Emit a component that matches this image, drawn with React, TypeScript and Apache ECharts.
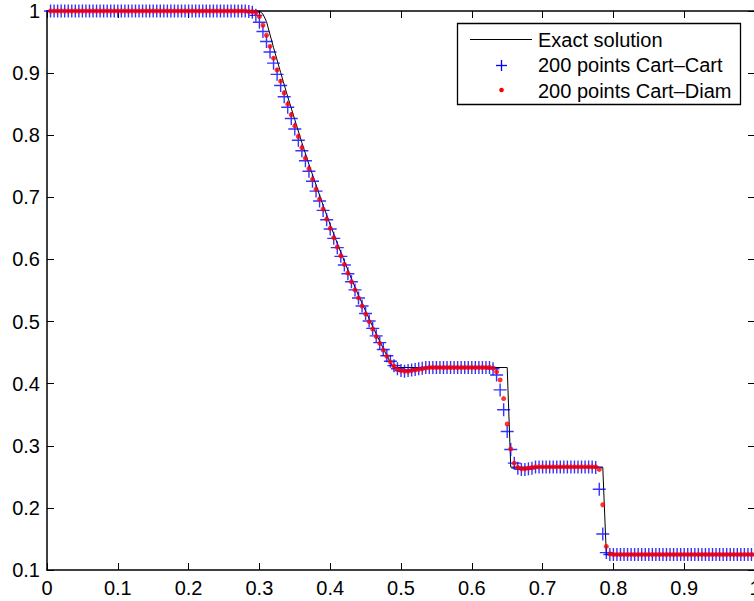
import React, { useEffect, useRef } from "react";
import * as echarts from "echarts";

// grid points (200 points)
const xCells = [
  0.005,0.01,0.015,0.02,0.025,0.03,0.035,0.04,0.045,0.05,
  0.055,0.06,0.065,0.07,0.075,0.08,0.085,0.09,0.095,0.1,
  0.105,0.11,0.115,0.12,0.125,0.13,0.135,0.14,0.145,0.15,
  0.155,0.16,0.165,0.17,0.175,0.18,0.185,0.19,0.195,0.2,
  0.205,0.21,0.215,0.22,0.225,0.23,0.235,0.24,0.245,0.25,
  0.255,0.26,0.265,0.27,0.275,0.28,0.285,0.29,0.295,0.3,
  0.305,0.31,0.315,0.32,0.325,0.33,0.335,0.34,0.345,0.35,
  0.355,0.36,0.365,0.37,0.375,0.38,0.385,0.39,0.395,0.4,
  0.405,0.41,0.415,0.42,0.425,0.43,0.435,0.44,0.445,0.45,
  0.455,0.46,0.465,0.47,0.475,0.48,0.485,0.49,0.495,0.5,
  0.505,0.51,0.515,0.52,0.525,0.53,0.535,0.54,0.545,0.55,
  0.555,0.56,0.565,0.57,0.575,0.58,0.585,0.59,0.595,0.6,
  0.605,0.61,0.615,0.62,0.625,0.63,0.635,0.64,0.645,0.65,
  0.655,0.66,0.665,0.67,0.675,0.68,0.685,0.69,0.695,0.7,
  0.705,0.71,0.715,0.72,0.725,0.73,0.735,0.74,0.745,0.75,
  0.755,0.76,0.765,0.77,0.775,0.78,0.785,0.79,0.795,0.8,
  0.805,0.81,0.815,0.82,0.825,0.83,0.835,0.84,0.845,0.85,
  0.855,0.86,0.865,0.87,0.875,0.88,0.885,0.89,0.895,0.9,
  0.905,0.91,0.915,0.92,0.925,0.93,0.935,0.94,0.945,0.95,
  0.955,0.96,0.965,0.97,0.975,0.98,0.985,0.99,0.995,1,
];

// 200 points Cart-Cart (blue +)
const cartCart = [
  1,1,1,1,1,1,1,1,1,1,
  1,1,1,1,1,1,1,1,1,1,
  1,1,1,1,1,1,1,1,1,1,
  1,1,1,1,1,1,1,1,1,1,
  1,1,1,1,1,1,1,1,1,1,
  1,1,1,1,1,1,0.999,0.998,0.993,0.982,
  0.967,0.951,0.934,0.916,0.898,0.880,0.862,0.845,0.827,0.810,
  0.792,0.775,0.759,0.742,0.726,0.710,0.694,0.679,0.664,0.649,
  0.634,0.619,0.605,0.591,0.577,0.564,0.551,0.538,0.525,0.513,
  0.501,0.489,0.477,0.466,0.455,0.445,0.436,0.429,0.424,0.421,
  0.420,0.421,0.422,0.423,0.424,0.425,0.426,0.426,0.426,0.426,
  0.426,0.426,0.426,0.426,0.426,0.426,0.426,0.426,0.426,0.426,
  0.426,0.426,0.426,0.426,0.426,0.424,0.414,0.390,0.358,0.323,
  0.294,0.272,0.264,0.262,0.262,0.263,0.264,0.266,0.266,0.266,
  0.266,0.266,0.266,0.266,0.266,0.266,0.266,0.266,0.266,0.266,
  0.266,0.266,0.266,0.266,0.265,0.230,0.158,0.128,0.125,0.125,
  0.125,0.125,0.125,0.125,0.125,0.125,0.125,0.125,0.125,0.125,
  0.125,0.125,0.125,0.125,0.125,0.125,0.125,0.125,0.125,0.125,
  0.125,0.125,0.125,0.125,0.125,0.125,0.125,0.125,0.125,0.125,
  0.125,0.125,0.125,0.125,0.125,0.125,0.125,0.125,0.125,0.125,
];

// 200 points Cart-Diam (red dots)
const cartDiam = [
  1,1,1,1,1,1,1,1,1,1,
  1,1,1,1,1,1,1,1,1,1,
  1,1,1,1,1,1,1,1,1,1,
  1,1,1,1,1,1,1,1,1,1,
  1,1,1,1,1,1,1,1,1,1,
  1,1,1,1,1,1,0.999,0.999,0.997,0.991,
  0.977,0.961,0.943,0.924,0.905,0.887,0.868,0.850,0.833,0.815,
  0.798,0.780,0.763,0.746,0.729,0.713,0.697,0.681,0.665,0.650,
  0.635,0.620,0.606,0.592,0.578,0.564,0.551,0.538,0.525,0.512,
  0.500,0.488,0.476,0.465,0.454,0.444,0.435,0.428,0.423,0.421,
  0.420,0.420,0.421,0.422,0.423,0.424,0.425,0.426,0.426,0.426,
  0.426,0.426,0.426,0.426,0.426,0.426,0.426,0.426,0.426,0.426,
  0.426,0.426,0.426,0.426,0.426,0.425,0.419,0.406,0.376,0.335,
  0.295,0.272,0.265,0.263,0.263,0.264,0.265,0.266,0.266,0.266,
  0.266,0.266,0.266,0.266,0.266,0.266,0.266,0.266,0.266,0.266,
  0.266,0.266,0.266,0.266,0.266,0.262,0.205,0.138,0.126,0.125,
  0.125,0.125,0.125,0.125,0.125,0.125,0.125,0.125,0.125,0.125,
  0.125,0.125,0.125,0.125,0.125,0.125,0.125,0.125,0.125,0.125,
  0.125,0.125,0.125,0.125,0.125,0.125,0.125,0.125,0.125,0.125,
  0.125,0.125,0.125,0.125,0.125,0.125,0.125,0.125,0.125,0.125,
];

// Exact solution polyline
const exactX = [0.005,0.3,0.305,0.31,0.32,0.33,0.34,0.35,0.36,0.37,0.38,0.39,0.4,0.41,0.42,0.43,0.44,0.45,0.46,0.47,0.48,0.485,0.49,0.65,0.655,0.785,0.79,1];
const exactY = [1,1,0.995,0.983,0.941,0.901,0.862,0.825,0.788,0.753,0.72,0.687,0.656,0.626,0.597,0.569,0.542,0.517,0.492,0.468,0.445,0.434,0.426,0.426,0.2656,0.2656,0.125,0.125];

const legendNames = ["Exact solution", "200 points Cart\u2013Cart", "200 points Cart\u2013Diam"];

const FONT = "'Liberation Sans', Arial, Helvetica, sans-serif";

export default function App() {
  const ref = useRef<HTMLDivElement>(null);
  useEffect(() => {
    if (!ref.current) return;
    const chart = echarts.init(ref.current, undefined, { renderer: "svg" });
    const fmt = (v: number) => String(Math.round(v * 10) / 10);
    const axisLine = { show: true, onZero: false, lineStyle: { color: "#000", width: 1.5 } };
    const axisTick = { show: true, inside: true, length: 7, lineStyle: { color: "#000", width: 1 } };
    const label = { color: "#000", fontSize: 20, fontFamily: FONT, formatter: fmt, showMinLabel: true, showMaxLabel: true };
    chart.setOption({
      animation: false,
      backgroundColor: "#fff",
      grid: { left: 47, top: 11, width: 708, height: 559, containLabel: false, outerBoundsMode: "none" },
      xAxis: [
        { type: "value", min: 0, max: 1, interval: 0.1, position: "bottom", axisLine, axisTick,
          axisLabel: { ...label, margin: 8 }, splitLine: { show: false } },
        { type: "value", min: 0, max: 1, interval: 0.1, position: "top", axisLine, axisTick,
          axisLabel: { show: false }, splitLine: { show: false } },
      ],
      yAxis: [
        { type: "value", min: 0.1, max: 1, interval: 0.1, position: "left", axisLine, axisTick,
          axisLabel: { ...label, margin: 7 }, splitLine: { show: false } },
        { type: "value", min: 0.1, max: 1, interval: 0.1, position: "right", axisLine, axisTick,
          axisLabel: { show: false }, splitLine: { show: false } },
      ],
      series: [
        {
          name: legendNames[0], type: "line", xAxisIndex: 0, yAxisIndex: 0,
          data: exactX.map((x, i) => [x, exactY[i]]),
          symbol: "none", lineStyle: { color: "#000", width: 1 }, z: 2,
        },
        {
          name: legendNames[1], type: "scatter", xAxisIndex: 0, yAxisIndex: 0,
          data: xCells.map((x, i) => [x, cartCart[i]]),
          symbol: "path://M6 0 L6 12 M0 6 L12 6", symbolSize: 13,
          itemStyle: { color: "rgba(0,0,0,0)", borderColor: "#0000ff", borderWidth: 1.4 }, z: 3,
        },
        {
          name: legendNames[2], type: "scatter", xAxisIndex: 0, yAxisIndex: 0,
          data: xCells.map((x, i) => [x, cartDiam[i]]),
          symbol: "circle", symbolSize: 5,
          itemStyle: { color: "#ff0000" }, z: 4,
        },
      ],
      graphic: [
        { type: "rect", z: 100, shape: { x: 457.5, y: 23.5, width: 283, height: 81 },
          style: { fill: "#fff", stroke: "#000", lineWidth: 1.3 } },
        { type: "line", z: 101, shape: { x1: 470, y1: 39.5, x2: 532, y2: 39.5 },
          style: { stroke: "#000", lineWidth: 1 } },
        { type: "line", z: 101, shape: { x1: 496, y1: 65.5, x2: 507, y2: 65.5 },
          style: { stroke: "#0000ff", lineWidth: 1.3 } },
        { type: "line", z: 101, shape: { x1: 501.5, y1: 60, x2: 501.5, y2: 71 },
          style: { stroke: "#0000ff", lineWidth: 1.3 } },
        { type: "circle", z: 101, shape: { cx: 501.5, cy: 90, r: 2.3 },
          style: { fill: "#ff0000" } },
        { type: "text", z: 101, x: 538, y: 40,
          style: { text: legendNames[0], fill: "#000", fontSize: 20, fontFamily: FONT, verticalAlign: "middle", align: "left" } },
        { type: "text", z: 101, x: 538, y: 65,
          style: { text: legendNames[1], fill: "#000", fontSize: 20, fontFamily: FONT, verticalAlign: "middle", align: "left" } },
        { type: "text", z: 101, x: 538, y: 90.5,
          style: { text: legendNames[2], fill: "#000", fontSize: 20, fontFamily: FONT, verticalAlign: "middle", align: "left" } },
      ],
    });
    return () => chart.dispose();
  }, []);
  return (
    <div
      ref={ref}
      style={{ position: "absolute", left: 0, top: 0, width: 754, height: 601, background: "#fff" }}
    />
  );
}
